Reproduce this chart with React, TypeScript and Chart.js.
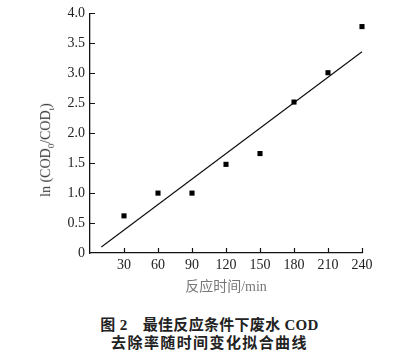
import React, { useEffect, useRef } from "react";
import { Chart, registerables } from "chart.js";

Chart.register(...registerables);

const timeMin: number[] = [30, 60, 90, 120, 150, 180, 210, 240];
const lnRatio: number[] = [0.62, 1.0, 1.0, 1.48, 1.66, 2.52, 3.01, 3.78];
const fitX: number[] = [10, 240];
const fitY: number[] = [0.1, 3.36];
const xTitle = "反应时间/min";
const captionLine1 = "图 2\u3000最佳反应条件下废水 COD";
const captionLine2 = "去除率随时间变化拟合曲线";

const SERIF = "'Liberation Serif', 'Times New Roman', 'Noto Sans CJK SC', serif";

const innerTicks = {
  id: "innerTicks",
  afterDraw(chart: any) {
    const { ctx, chartArea, scales } = chart;
    ctx.save();
    ctx.strokeStyle = "#111";
    ctx.lineWidth = 1.2;
    ctx.beginPath();
    scales.x.ticks.forEach((t: any) => {
      if (t.value === 0) return;
      const px = Math.round(scales.x.getPixelForValue(t.value)) + 0.5;
      ctx.moveTo(px, chartArea.bottom);
      ctx.lineTo(px, chartArea.bottom - 5);
    });
    scales.y.ticks.forEach((t: any) => {
      if (t.value === 0) return;
      const py = Math.round(scales.y.getPixelForValue(t.value)) + 0.5;
      ctx.moveTo(chartArea.left, py);
      ctx.lineTo(chartArea.left + 5, py);
    });
    ctx.stroke();
    ctx.restore();
  },
};

export default function App() {
  const ref = useRef<HTMLCanvasElement | null>(null);

  useEffect(() => {
    if (!ref.current) return;
    const chart = new Chart(ref.current, {
      type: "scatter",
      data: {
        datasets: [
          {
            label: "data",
            data: timeMin.map((x, i) => ({ x, y: lnRatio[i] })),
            pointStyle: "rect",
            pointRadius: 3.6,
            backgroundColor: "#000",
            borderColor: "#000",
            borderWidth: 0,
            showLine: false,
            clip: false,
          },
          {
            label: "fit",
            data: fitX.map((x, i) => ({ x, y: fitY[i] })),
            showLine: true,
            pointRadius: 0,
            borderColor: "#111",
            borderWidth: 1.2,
            fill: false,
            clip: false,
          },
        ],
      },
      options: {
        responsive: false,
        animation: false,
        events: [],
        layout: { padding: { left: 0, right: 40, top: 11, bottom: 0 } },
        plugins: { legend: { display: false }, tooltip: { enabled: false }, title: { display: false } },
        scales: {
          x: {
            type: "linear",
            min: 0,
            max: 240,
            afterFit: (s: any) => {
              s.height = 47;
            },
            ticks: {
              stepSize: 30,
              color: "#222",
              padding: 4,
              font: { family: SERIF, size: 14 },
              callback: (v: any) => (v === 0 ? "" : String(v)),
              maxRotation: 0,
              autoSkip: false,
            },
            grid: { drawOnChartArea: false, drawTicks: false },
            border: { color: "#111", width: 1.3 },
            title: {
              display: true,
              text: xTitle,
              color: "#777",
              font: { family: SERIF, size: 14 },
              padding: { top: 4, bottom: 4 },
            },
          },
          y: {
            type: "linear",
            min: 0,
            max: 4,
            afterFit: (s: any) => {
              s.width = 90;
            },
            ticks: {
              stepSize: 0.5,
              color: "#222",
              padding: 5,
              font: { family: SERIF, size: 14 },
              callback: (v: any) => (v === 0 ? "0" : Number(v).toFixed(1)),
            },
            grid: { drawOnChartArea: false, drawTicks: false },
            border: { color: "#111", width: 1.3 },
          },
        },
      },
      plugins: [innerTicks],
    });
    return () => chart.destroy();
  }, []);

  return (
    <div style={{ position: "absolute", left: 0, top: 0, width: 402, height: 354, background: "#fff", overflow: "hidden" }}>
      <canvas ref={ref} width={402} height={300} style={{ position: "absolute", left: 0, top: 0, width: 402, height: 300 }} />
      <div
        style={{
          position: "absolute",
          left: 47,
          top: 150,
          transform: "translate(-50%, -50%) rotate(-90deg)",
          whiteSpace: "nowrap",
          fontFamily: SERIF,
          fontSize: 14,
          color: "#333",
        }}
      >
        ln (COD<sub style={{ fontSize: 9 }}>0</sub>/COD<sub style={{ fontSize: 9 }}>t</sub>)
      </div>
      <div
        style={{
          position: "absolute",
          left: 0,
          width: 419,
          top: 316,
          textAlign: "center",
          whiteSpace: "pre",
          fontFamily: SERIF,
          fontWeight: "bold",
          fontSize: 15,
          lineHeight: "18px",
          letterSpacing: 0.3,
          color: "#222",
        }}
      >
        {captionLine1}
      </div>
      <div
        style={{
          position: "absolute",
          left: 0,
          width: 419,
          top: 334,
          textAlign: "center",
          whiteSpace: "pre",
          fontFamily: SERIF,
          fontWeight: "bold",
          fontSize: 15,
          lineHeight: "18px",
          letterSpacing: 1.4,
          color: "#222",
        }}
      >
        {captionLine2}
      </div>
    </div>
  );
}
